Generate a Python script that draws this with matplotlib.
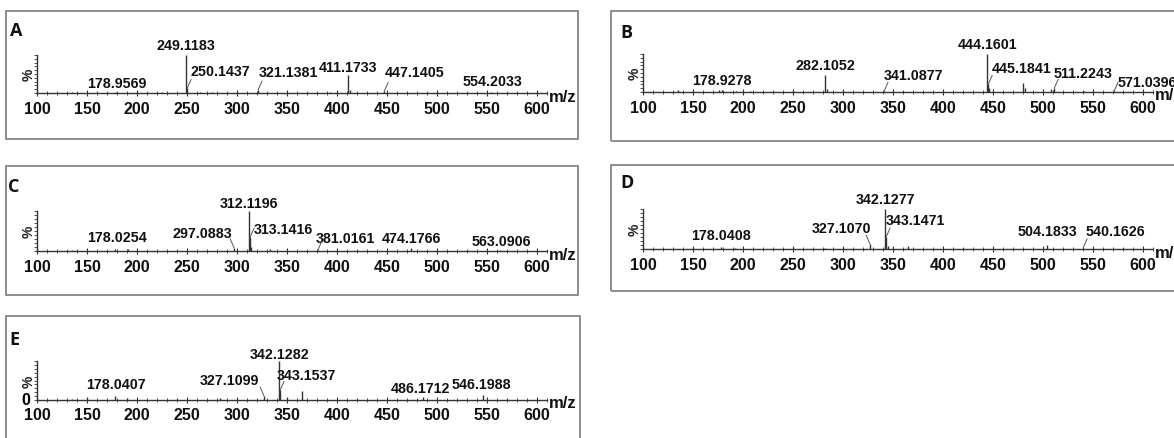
import matplotlib
matplotlib.use('Agg')
import matplotlib.pyplot as plt
from matplotlib import font_manager as fm
from matplotlib.patches import Rectangle
from matplotlib.ticker import MultipleLocator

W, H, DPI = 1174, 439, 100

names = {f.name for f in fm.fontManager.ttflist}
TICK_FONT = 'Liberation Sans Narrow' if 'Liberation Sans Narrow' in names else 'Liberation Sans'
LABEL_FONT = 'Liberation Sans'
LETTER_FONT = 'Open Sans' if 'Open Sans' in names else 'DejaVu Sans'

# ---------------- data ----------------
panel_names = ['A', 'B', 'C', 'D', 'E']
x_ticks = [100, 150, 200, 250, 300, 350, 400, 450, 500, 550, 600]

A_mz = [135, 160, 178.9569, 225, 249.1183, 250.1437, 263, 275, 300, 321.1381, 350, 393,
        411.1733, 413, 447.1405, 470, 500, 554.2033]
A_int = [1.5, 1.5, 2, 2, 100, 12, 3, 2, 1.5, 8, 1.5, 2, 47, 8, 4, 2, 3, 2]
A_labeled = [249.1183, 250.1437, 178.9569, 321.1381, 411.1733, 447.1405, 554.2033]

B_mz = [135, 176, 178.9278, 193, 207, 230, 250, 282.1052, 284, 300, 341.0877, 360,
        444.1601, 445.1841, 446, 480, 482, 508, 511.2243, 541, 571.0396]
B_int = [5, 4, 5, 3, 3, 2, 2, 44, 8, 2, 2, 2, 100, 20, 10, 25, 10, 8, 10, 2, 2]
B_labeled = [178.9278, 282.1052, 341.0877, 444.1601, 445.1841, 511.2243, 571.0396]

C_mz = [135, 150, 178.0254, 191, 240, 297.0883, 312.1196, 313.1416, 314, 333,
        381.0161, 420, 474.1766, 530, 563.0906]
C_int = [3, 2, 4, 5, 2, 8, 100, 35, 10, 6, 3, 2, 8, 2, 2]
C_labeled = [178.0254, 297.0883, 312.1196, 313.1416, 381.0161, 474.1766, 563.0906]

D_mz = [150, 178.0408, 192, 250, 282, 327.1070, 342.1277, 343.1471, 345, 365, 420,
        504.1833, 540.1626, 580]
D_int = [3, 5, 3, 2, 3, 12, 100, 30, 8, 8, 2, 10, 3, 2]
D_labeled = [178.0408, 327.1070, 342.1277, 343.1471, 504.1833, 540.1626]

E_mz = [135, 150, 178.0407, 190, 240, 283, 327.1099, 342.1282, 343.1537, 350, 365,
        420, 486.1712, 546.1988, 570]
E_int = [3, 5, 10, 4, 2, 5, 10, 100, 25, 6, 22, 2, 8, 14, 3]
E_labeled = [178.0407, 327.1099, 342.1282, 343.1537, 486.1712, 546.1988]

panel_mz = [A_mz, B_mz, C_mz, D_mz, E_mz]
panel_int = [A_int, B_int, C_int, D_int, E_int]
panel_labeled = [A_labeled, B_labeled, C_labeled, D_labeled, E_labeled]

# ---------------- layout (pixels) ----------------
# axis origin x (m/z 100), baseline y, y-axis top y
axis_px = [(37, 94, 56), (643, 93, 55), (37, 252, 212), (643, 250, 210), (37, 401, 362)]
box_px = [(6, 12, 578, 140), (611, 12, 1180, 142), (6, 167, 578, 296),
          (611, 166, 1180, 292), (6, 317, 580, 445)]
letter_px = [(16, 31), (626, 33), (14, 187), (627, 183), (14, 340)]
tick_pad = [3.5, 3.5, 3.5, 3.5, 2.5]
# label offsets (dx from peak, dy above baseline) in pixels
label_off = [
    [(0, 48), (33, 22), (1, 10), (30, 21), (0, 26), (30, 21), (1, 12)],
    [(0, 12), (0, 27), (29, 17), (0, 48), (33, 24), (29, 19), (33, 10)],
    [(2, 14), (-32, 18), (0, 48), (33, 22), (27, 13), (0, 13), (1, 10)],
    [(0, 14), (-29, 21), (0, 50), (29, 29), (0, 18), (32, 18)],
    [(1, 16), (-35, 20), (0, 46), (26, 25), (-3, 12), (-2, 16)],
]
AX_LEN = 510  # pixels for m/z 100..610

fig = plt.figure(figsize=(W / DPI, H / DPI), dpi=DPI)
fig.patch.set_facecolor('white')

for i, name in enumerate(panel_names):
    l, t, r, b = box_px[i]
    fig.patches.append(Rectangle((l / W, 1 - b / H), (r - l) / W, (b - t) / H,
                                 transform=fig.transFigure, fill=False,
                                 ec='#858585', lw=1.3, zorder=0))
    lx, ly = letter_px[i]
    fig.text(lx / W, 1 - ly / H, name, ha='center', va='center', fontsize=13,
             fontweight='bold', family=LETTER_FONT, color='#111')

    x0, base, top = axis_px[i]
    ax = fig.add_axes([x0 / W, 1 - base / H, AX_LEN / W, (base - top) / H])
    ax.set_facecolor('none')
    ax.set_xlim(100, 610)
    ax.set_ylim(0, 100)
    for s in ('top', 'right'):
        ax.spines[s].set_visible(False)
    for s in ('bottom', 'left'):
        ax.spines[s].set_color('#333333')
        ax.spines[s].set_linewidth(1.0)

    ax.vlines(panel_mz[i], 0, panel_int[i], color='#333333', lw=1.0)

    ax.set_xticks(x_ticks)
    ax.set_xticklabels([str(v) for v in x_ticks])
    ax.xaxis.set_minor_locator(MultipleLocator(10))
    ax.tick_params(axis='x', which='major', direction='inout', length=4.5, width=0.8,
                   color='#333333', pad=tick_pad[i])
    ax.tick_params(axis='x', which='minor', direction='inout', length=2.5, width=0.6,
                   color='#333333')
    for lbl in ax.get_xticklabels():
        lbl.set_fontfamily(TICK_FONT)
        lbl.set_fontweight('bold')
        lbl.set_fontsize(11.5)
        lbl.set_color('#111')

    if name == 'E':
        ax.set_yticks([0])
        ax.set_yticklabels(['0'])
    else:
        ax.set_yticks([])
    ax.yaxis.set_minor_locator(MultipleLocator(10))
    ax.tick_params(axis='y', which='both', direction='out', length=2, width=0.6,
                   color='#333333', pad=3)
    for lbl in ax.get_yticklabels():
        lbl.set_fontfamily(TICK_FONT)
        lbl.set_fontweight('bold')
        lbl.set_fontsize(11.5)
        lbl.set_verticalalignment('center')

    ax.annotate('%', xy=(0, 0.5), xycoords='axes fraction', xytext=(-8, 0),
                textcoords='offset pixels', rotation=90, ha='center', va='center',
                fontsize=10, fontweight='bold', family=LABEL_FONT, color='#222')
    ax.annotate('m/z', xy=(1, 0), xycoords='axes fraction', xytext=(2, -3),
                textcoords='offset pixels', ha='left', va='center',
                fontsize=12, fontweight='bold', family=TICK_FONT, color='#111',
                annotation_clip=False)

    ints = dict(zip(panel_mz[i], panel_int[i]))
    for mz, (dx, dy) in zip(panel_labeled[i], label_off[i]):
        ax.annotate(f'{mz:.4f}', xy=(mz, 0), xycoords='data', xytext=(dx, dy),
                    textcoords='offset pixels', ha='center', va='center',
                    fontsize=10.3, fontweight='bold', family=LABEL_FONT, color='#111',
                    annotation_clip=False)
        if abs(dx) > 10:
            sgn = 1 if dx > 0 else -1
            ax.annotate('', xy=(mz, ints[mz]), xycoords='data',
                        xytext=(sgn * 4, 9), textcoords='offset pixels',
                        arrowprops=dict(arrowstyle='-', color='#555555', lw=0.7,
                                        shrinkA=0, shrinkB=0),
                        annotation_clip=False)

fig.savefig('out.png', dpi=DPI)
